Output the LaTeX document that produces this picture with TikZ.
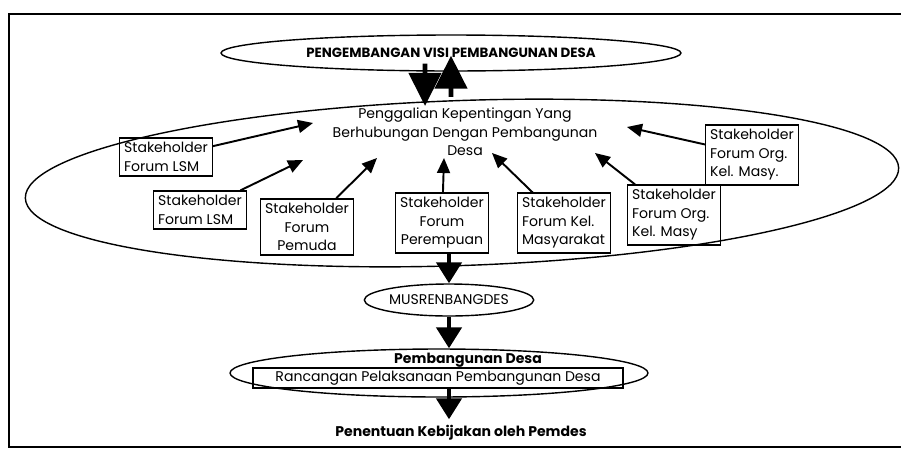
\documentclass[tikz,border=0pt]{standalone}
\usepackage{fontspec}
\setmainfont{Poppins}
\usetikzlibrary{shapes.geometric,arrows.meta}
\begin{document}
\begin{tikzpicture}[x=0.02cm, y=-0.02cm, font=\fontsize{8}{10.5}\selectfont,
  stakebox/.style={draw, line width=0.8pt, align=left, inner sep=2.5pt},
  oval/.style={draw, ellipse, line width=0.8pt, inner sep=0pt},
  thinarrow/.style={line width=1.1pt, -{Triangle[length=0.3cm,width=0.26cm]}},
  bigarrow/.style={line width=2.6pt, -{Triangle[length=0.42cm,width=0.5cm]}},
  toparrow/.style={line width=2.6pt, -{Triangle[length=0.66cm,width=0.64cm]}}]
\useasboundingbox (0,0) rectangle (901,450);
% frame
\draw[line width=1pt] (901,14) -- (9,14) -- (9,447) -- (901,447);
% ovals
\node[oval, minimum width=9.2cm, minimum height=0.72cm, font=\fontsize{7.6}{9}\selectfont\bfseries] (visi) at (451,53) {PENGEMBANGAN VISI PEMBANGUNAN DESA};
\node[oval, minimum width=17.48cm, minimum height=3.3cm, rotate=2] (keg) at (462,183) {};
\node[align=center] (gali) at (465,132) {Penggalian Kepentingan Yang\\Berhubungan Dengan Pembangunan\\Desa};
\node[oval, minimum width=3.3cm, minimum height=0.64cm] (mus) at (449,300) {MUSRENBANGDES};
\node[oval, minimum width=8.36cm, minimum height=0.96cm] (rpd) at (439,373) {};
\node[draw, line width=0.8pt, minimum width=7.4cm, minimum height=0.4cm, inner sep=0pt] (rcg) at (438,378) {Rancangan Pelaksanaan Pembangunan Desa};
\node[font=\fontsize{8}{9}\selectfont\bfseries, inner sep=1pt] (pdes) at (468,360) {Pembangunan Desa};
\node[font=\fontsize{8}{9}\selectfont\bfseries] (pen) at (461,433) {Penentuan Kebijakan oleh Pemdes};
% stakeholders
\node[stakebox] (s1) at (166,157) {Stakeholder\\Forum LSM};
\node[stakebox] (s2) at (200,210) {Stakeholder\\Forum LSM};
\node[stakebox, align=center] (s3) at (307,227) {Stakeholder\\Forum\\Pemuda};
\node[stakebox, align=center] (s4) at (442,223) {Stakeholder\\Forum\\Perempuan};
\node[stakebox] (s5) at (564,223) {Stakeholder\\Forum Kel.\\Masyarakat};
\node[stakebox] (s6) at (674,215) {Stakeholder\\Forum Org.\\Kel. Masy};
\node[stakebox] (s7) at (752,155) {Stakeholder\\Forum Org.\\Kel. Masy.};
\coordinate (t1) at (313,123);
\coordinate (t2) at (303,160);
\coordinate (t3) at (377,158);
\coordinate (t4) at (444,158);
\coordinate (t5) at (492,153);
\coordinate (t6) at (595,153);
\coordinate (t7) at (627,127);
\draw[thinarrow] (s1) -- (t1);
\draw[thinarrow] (s2) -- (t2);
\draw[thinarrow] (s3) -- (t3);
\draw[thinarrow] (s4) -- (t4);
\draw[thinarrow] (s5) -- (t5);
\draw[thinarrow] (s6) -- (t6);
\draw[thinarrow] (s7) -- (t7);
% main flow
\draw[toparrow] ([xshift=-0.52cm,yshift=0.16cm]visi.south) -- ([xshift=-0.8cm,yshift=-0.08cm]gali.north);
\draw[toparrow] ([xshift=-0.28cm,yshift=0.1cm]gali.north) -- ([yshift=0.32cm]visi.south);
\draw[bigarrow] ([yshift=0.58cm]mus.north) -- (mus.north);
\draw[bigarrow] (mus.south) -- (mus.south |- rpd.north);
\draw[bigarrow] (rcg.south -| mus.south) -- (pen.north -| mus.south);
\end{tikzpicture}
\end{document}
